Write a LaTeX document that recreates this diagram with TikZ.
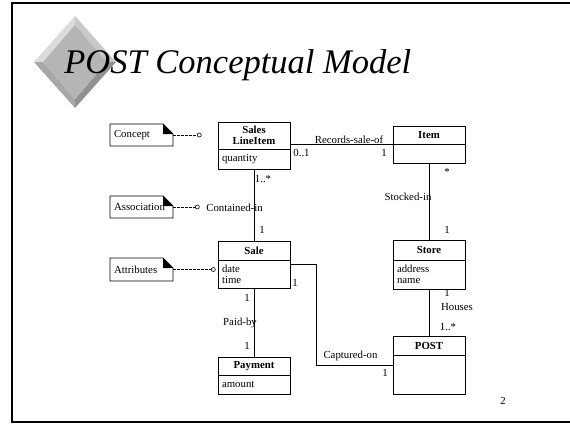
\documentclass[tikz,border=0pt]{standalone}
\usepackage{fontspec}
\setmainfont{Liberation Serif}
\usetikzlibrary{positioning,calc}
\definecolor{bevellight}{gray}{0.86}
\definecolor{bevelmid}{gray}{0.79}
\definecolor{bevelface}{gray}{0.71}
\definecolor{beveldim}{gray}{0.66}
\definecolor{beveldark}{gray}{0.57}
\tikzset{shorten >=0pt,node distance=2cm}

\begin{document}
\begin{tikzpicture}[x=1pt,y=-1pt,line width=0.8pt,font=\fontsize{10.8}{11}\selectfont]
                \tikzstyle{classname}=[draw,outer sep=0pt,text width=64pt,align=center,inner xsep=4pt,inner ysep=1pt,minimum height=19pt,font=\fontsize{10.8}{11}\selectfont\bfseries]
                \tikzstyle{classattr}=[draw,outer sep=0pt,text width=64pt,align=left,inner xsep=4pt,inner ysep=1pt]
                \tikzstyle{umlnote}=[outer sep=0pt,text width=55pt,align=left,inner xsep=4pt,minimum height=22pt]
                \tikzstyle{dotend}=[circle,draw,fill=white,inner sep=0pt,minimum size=4pt,line width=0.6pt]
                \tikzstyle{multlabel}=[inner sep=0pt,anchor=center]
                \useasboundingbox (0,0) rectangle (570,424);
                % slide frame
                \draw[line width=2.5pt] (580,3) -| (12,422) -- (580,422);
                % bevelled diamond
                \fill[bevellight] (34,62) -- (75,16) -- (75,25) -- (43,62) -- cycle;
                \fill[bevelmid] (75,16) -- (116,62) -- (107,62) -- (75,25) -- cycle;
                \fill[beveldark] (116,62) -- (75,108) -- (75,99) -- (107,62) -- cycle;
                \fill[beveldim] (75,108) -- (34,62) -- (43,62) -- (75,99) -- cycle;
                \fill[bevelface] (43,62) -- (75,25) -- (107,62) -- (75,99) -- cycle;
                \node[anchor=base west,inner sep=0pt,font=\fontsize{34.5}{34}\selectfont\itshape] (title) at (64,73) {POST Conceptual Model};
                % classes
                \node[classname,minimum height=27pt] (sli) at (254,135.5) {Sales\\LineItem};
                \node[classattr,minimum height=20pt,below=0pt of sli] (sliA) {quantity};
                \node[classname] (sale) [below=72pt of sliA] {Sale};
                \node[classattr,minimum height=28pt,below=0pt of sale] (saleA) {date\\time};
                \node[classname,minimum height=18pt] (pay) [below=69pt of saleA] {Payment};
                \node[classattr,minimum height=19pt,below=0pt of pay] (payA) {amount};
                \node[classname,minimum height=18pt] (item) at (429,135) {Item};
                \node[classattr,minimum height=19pt,below=0pt of item] (itemA) {};
                \node[classname,minimum height=20pt] (store) [below=77pt of itemA] {Store};
                \node[classattr,minimum height=29pt,below=0pt of store] (storeA) {address\\name};
                \node[classname] (post) [below=47pt of storeA] {POST};
                \node[classattr,minimum height=39pt,below=0pt of post] (postA) {};
                % notes
                \node[umlnote] (concept) at (141.5,135) {Concept};
                \node[umlnote] (assoc) [below=50pt of concept] {Association};
                \node[umlnote,minimum height=23pt] (attr) [below=40pt of assoc] {Attributes};
                \foreach \n in {concept,assoc,attr}{
                    \draw (\n.north west) -- ([xshift=-10pt]\n.north east) -- ([yshift=-10pt]\n.north east)
                        -- (\n.south east) -- (\n.south west) -- cycle;
                    \fill ([xshift=-10pt]\n.north east) -- ([xshift=-10pt,yshift=-10pt]\n.north east)
                        -- ([yshift=-10pt]\n.north east) -- cycle;
                }
                \node[dotend] (conceptEnd) [right=24pt of concept] {};
                \node[dotend] (assocEnd)   [right=22pt of assoc] {};
                \node[dotend] (attrEnd)    [right=38pt of attr] {};
                \path[dash pattern=on 2.5pt off 1.5pt]
                    (concept) edge (conceptEnd)
                    (assoc)   edge (assocEnd)
                    (attr)    edge (attrEnd);
                % associations
                \path
                    (sli.east |- itemA.north) edge
                        node[multlabel,pos=.5,xshift=7.5pt,yshift=4.5pt] {Records-sale-of}
                        node[multlabel,pos=0,xshift=11.5pt,yshift=-9pt] {0..1}
                        node[multlabel,pos=1,xshift=-9pt,yshift=-9pt] {1} (itemA.north west)
                    (sliA) edge
                        node[multlabel,pos=0,xshift=9pt,yshift=-10pt] {1..*}
                        node[multlabel,pos=.5,xshift=-19.5pt,yshift=-3pt] {Contained-in}
                        node[multlabel,pos=1,xshift=8pt,yshift=11pt] {1} (sale)
                    (saleA) edge
                        node[multlabel,pos=0,xshift=-7pt,yshift=-10pt] {1}
                        node[multlabel,pos=.5,xshift=-14pt] {Paid-by}
                        node[multlabel,pos=1,xshift=-7pt,yshift=11pt] {1} (pay)
                    (itemA) edge
                        node[multlabel,pos=0,xshift=18pt,yshift=-9pt] {*}
                        node[multlabel,pos=.5,xshift=-21pt,yshift=4.5pt] {Stocked-in}
                        node[multlabel,pos=1,xshift=18pt,yshift=10pt] {1} (store)
                    (storeA) edge
                        node[multlabel,pos=0,xshift=18pt,yshift=-4pt] {1}
                        node[multlabel,pos=.5,xshift=28pt,yshift=5.5pt] {Houses}
                        node[multlabel,pos=1,xshift=19pt,yshift=9pt] {1..*} (post);
                \draw ([yshift=-4pt]saleA.north east)
                        node[multlabel,xshift=5pt,yshift=-19pt] {1}
                    -- ++(26,0) |- ([yshift=-10pt]postA.north west)
                        node[multlabel,pos=.75,xshift=-4pt,yshift=9pt] {Captured-on}
                        node[multlabel,pos=1,xshift=-8pt,yshift=-8pt] {1};
                % page number
                \node (pageno) at (503,401) {2};
\end{tikzpicture}
\end{document}
